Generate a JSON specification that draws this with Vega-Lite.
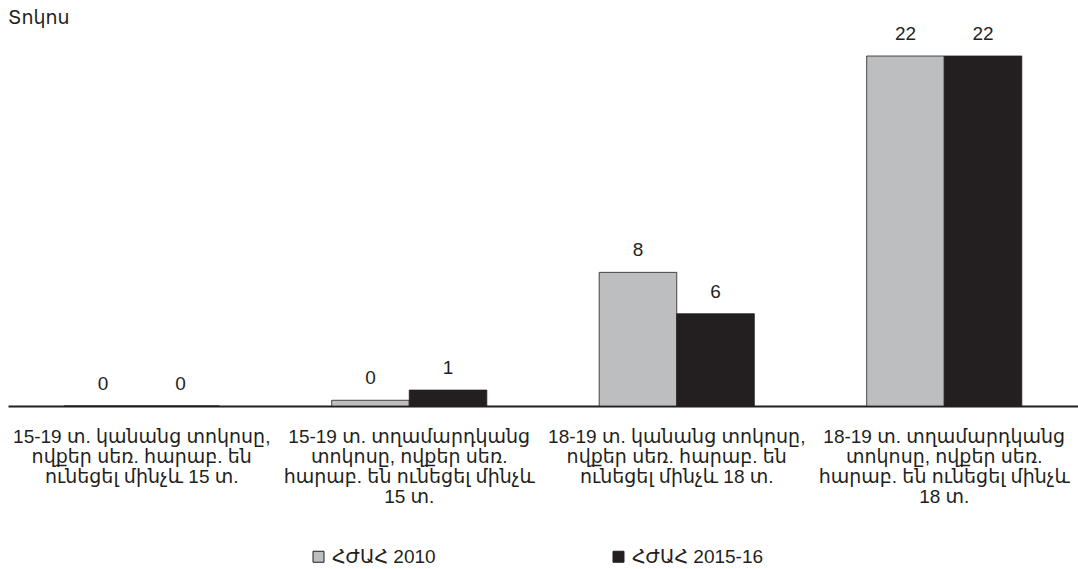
{
  "$schema": "https://vega.github.io/schema/vega-lite/v6.json",
  "width": 1070,
  "height": 350,
  "autosize": {"type": "none"},
  "padding": {"left": 8, "top": 56, "right": 0, "bottom": 163},
  "background": "white",
  "config": {
    "view": {"stroke": null},
    "font": "Liberation Sans, Arial, DejaVu Sans, sans-serif"
  },
  "title": {
    "text": "Տոկոս",
    "anchor": "start",
    "frame": "group",
    "fontSize": 19,
    "fontWeight": "normal",
    "color": "#231f20",
    "baseline": "alphabetic",
    "offset": -18
  },
  "data": {
    "values": [
      {"cat": "15-19 տ. կանանց տոկոսը,|ովքեր  սեռ. հարաբ. են|ունեցել մինչև 15 տ.", "survey": "ՀԺԱՀ 2010", "value": 0},
      {"cat": "15-19 տ. կանանց տոկոսը,|ովքեր  սեռ. հարաբ. են|ունեցել մինչև 15 տ.", "survey": "ՀԺԱՀ 2015-16", "value": 0},
      {"cat": "15-19 տ. տղամարդկանց|տոկոսը, ովքեր  սեռ.|հարաբ. են ունեցել մինչև|15 տ.", "survey": "ՀԺԱՀ 2010", "value": 0.36},
      {"cat": "15-19 տ. տղամարդկանց|տոկոսը, ովքեր  սեռ.|հարաբ. են ունեցել մինչև|15 տ.", "survey": "ՀԺԱՀ 2015-16", "value": 1.0},
      {"cat": "18-19 տ. կանանց տոկոսը,|ովքեր  սեռ. հարաբ. են|ունեցել մինչև 18 տ.", "survey": "ՀԺԱՀ 2010", "value": 8.4},
      {"cat": "18-19 տ. կանանց տոկոսը,|ովքեր  սեռ. հարաբ. են|ունեցել մինչև 18 տ.", "survey": "ՀԺԱՀ 2015-16", "value": 5.8},
      {"cat": "18-19 տ. տղամարդկանց|տոկոսը, ովքեր սեռ.|հարաբ. են ունեցել մինչև|18 տ.", "survey": "ՀԺԱՀ 2010", "value": 22},
      {"cat": "18-19 տ. տղամարդկանց|տոկոսը, ովքեր սեռ.|հարաբ. են ունեցել մինչև|18 տ.", "survey": "ՀԺԱՀ 2015-16", "value": 22}
    ]
  },
  "encoding": {
    "x": {
      "field": "cat",
      "type": "nominal",
      "sort": null,
      "scale": {"paddingInner": 0.42, "paddingOuter": 0.21},
      "axis": {
        "title": null,
        "labelAngle": 0,
        "labelExpr": "split(datum.value, '|')",
        "labelFontSize": 19,
        "labelLineHeight": 20,
        "labelColor": "#231f20",
        "labelLimit": 0,
        "labelPadding": 21,
        "ticks": false,
        "domainColor": "#231f20",
        "domainWidth": 2
      }
    },
    "xOffset": {"field": "survey", "type": "nominal", "sort": null},
    "y": {
      "field": "value",
      "type": "quantitative",
      "scale": {"domain": [0, 22], "nice": false},
      "axis": null
    }
  },
  "layer": [
    {
      "mark": {"type": "bar", "stroke": "#231f20", "strokeWidth": 0.8},
      "encoding": {
        "color": {
          "field": "survey",
          "type": "nominal",
          "sort": null,
          "scale": {"range": ["#bcbec0", "#231f20"]},
          "legend": {
            "title": null,
            "orient": "none",
            "direction": "horizontal",
            "legendX": 301,
            "legendY": 491,
            "symbolType": "square",
            "symbolSize": 121,
            "symbolStrokeColor": "#231f20",
            "symbolStrokeWidth": 1,
            "labelFontSize": 19,
            "labelColor": "#231f20",
            "labelOffset": 4,
            "columnPadding": 173,
            "labelLimit": 0
          }
        }
      }
    },
    {
      "mark": {"type": "text", "baseline": "alphabetic", "dy": -16, "fontSize": 19, "color": "#231f20"},
      "encoding": {
        "text": {"field": "value", "type": "quantitative", "format": ".0f"}
      }
    }
  ]
}
